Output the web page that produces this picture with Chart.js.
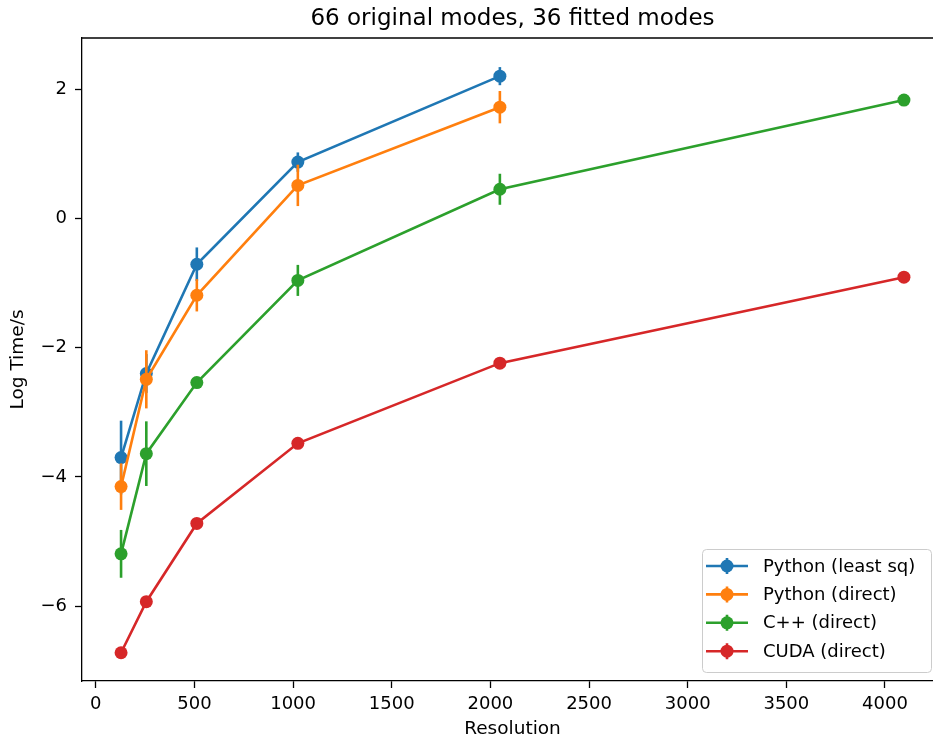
<!DOCTYPE html>
<html>
<head>
<meta charset="utf-8">
<title>Log Time vs Resolution</title>
<script src="https://cdn.jsdelivr.net/npm/chart.js@4.4.1/dist/chart.umd.min.js"></script>
<style>
  html, body { margin: 0; padding: 0; background: #fff; overflow: hidden; }
  #viewport { width: 933px; height: 740px; overflow: hidden; position: relative; }
  #wrap { width: 950px; height: 740px; position: absolute; left: 0; top: 0; }
</style>
</head>
<body>
<div id="viewport"><div id="wrap"><canvas id="chartTempos"></canvas></div></div>
<script>
// Tempo (log s) por resolucao, com barras de erro, para cada implementacao
const resolutions = [128, 256, 512, 1024, 2048, 4096];

const pythonLsqTime = [-3.70, -2.40, -0.71, 0.87, 2.20];
const pythonLsqErr  = [0.57, 0.30, 0.26, 0.15, 0.14];

const pythonDirectTime = [-4.15, -2.49, -1.19, 0.51, 1.72];
const pythonDirectErr  = [0.36, 0.45, 0.25, 0.32, 0.25];

const cppDirectTime = [-5.19, -3.64, -2.54, -0.96, 0.45, 1.83];
const cppDirectErr  = [0.37, 0.50, 0.06, 0.24, 0.24, 0.07];

const cudaDirectTime = [-6.72, -5.93, -4.72, -3.48, -2.24, -0.91];
const cudaDirectErr  = [0.03, 0.03, 0.03, 0.03, 0.03, 0.03];

const seriesLabels = ['Python (least sq)', 'Python (direct)', 'C++ (direct)', 'CUDA (direct)'];
const seriesColors = ['#1f77b4', '#ff7f0e', '#2ca02c', '#d62728'];

const xTicks = [0, 500, 1000, 1500, 2000, 2500, 3000, 3500, 4000];
const yTicks = [-6, -4, -2, 0, 2];

const chartTitle = '66 original modes, 36 fitted modes';
const FONT = 'DejaVu Sans';

function toPoints(times) {
  return times.map((t, i) => ({ x: resolutions[i], y: t }));
}

const allTimes = [pythonLsqTime, pythonDirectTime, cppDirectTime, cudaDirectTime];
const allErrs = [pythonLsqErr, pythonDirectErr, cppDirectErr, cudaDirectErr];

const datasets = allTimes.map((times, i) => ({
  label: seriesLabels[i],
  data: toPoints(times),
  errors: allErrs[i],
  borderColor: seriesColors[i],
  backgroundColor: seriesColors[i],
  pointBackgroundColor: seriesColors[i],
  pointBorderWidth: 0,
  pointRadius: 6.5,
  borderWidth: 2.6,
  tension: 0,
  order: allTimes.length - i   // ultima serie fica por cima
}));

// barras de erro verticais, desenhadas logo apos cada serie
const errorBarsPlugin = {
  id: 'errorBars',
  afterDatasetDraw(chart, args) {
    const ds = chart.data.datasets[args.index];
    if (!ds.errors) return;
    const { ctx, chartArea, scales } = chart;
    ctx.save();
    ctx.beginPath();
    ctx.rect(chartArea.left, chartArea.top, chartArea.right - chartArea.left, chartArea.bottom - chartArea.top);
    ctx.clip();
    ctx.strokeStyle = ds.borderColor;
    ctx.lineWidth = ds.borderWidth;
    ds.data.forEach((pt, j) => {
      const e = ds.errors[j];
      const px = scales.x.getPixelForValue(pt.x);
      ctx.beginPath();
      ctx.moveTo(px, scales.y.getPixelForValue(pt.y - e));
      ctx.lineTo(px, scales.y.getPixelForValue(pt.y + e));
      ctx.stroke();
    });
    ctx.restore();
  }
};

// moldura superior, titulo e legenda
const framePlugin = {
  id: 'frame',
  afterDraw(chart) {
    const { ctx, chartArea } = chart;
    ctx.save();

    ctx.strokeStyle = '#000';
    ctx.lineWidth = 1.3;
    ctx.beginPath();
    ctx.moveTo(chartArea.left, chartArea.top);
    ctx.lineTo(chartArea.right, chartArea.top);
    ctx.stroke();

    ctx.fillStyle = '#000';
    ctx.font = '23px "' + FONT + '"';
    ctx.textAlign = 'center';
    ctx.textBaseline = 'middle';
    ctx.fillText(chartTitle, (chartArea.left + chartArea.right) / 2, 19.5);

    const lw = 229, lh = 123;
    const lx = 702;
    const ly = chartArea.bottom - 9 - lh;
    ctx.beginPath();
    ctx.roundRect(lx + 0.5, ly + 0.5, lw, lh, 4);
    ctx.fillStyle = 'rgba(255,255,255,0.8)';
    ctx.fill();
    ctx.strokeStyle = '#cccccc';
    ctx.lineWidth = 1;
    ctx.stroke();

    ctx.font = '18px "' + FONT + '"';
    ctx.textAlign = 'left';
    chart.data.datasets.forEach((ds, i) => {
      const y = ly + 17 + i * 28.4;
      const mx = lx + 25;
      ctx.strokeStyle = ds.borderColor;
      ctx.lineWidth = 2.6;
      ctx.beginPath();
      ctx.moveTo(lx + 4, y);
      ctx.lineTo(lx + 46, y);
      ctx.moveTo(mx, y - 8);
      ctx.lineTo(mx, y + 8);
      ctx.stroke();
      ctx.fillStyle = ds.borderColor;
      ctx.beginPath();
      ctx.arc(mx, y, 6.5, 0, Math.PI * 2);
      ctx.fill();
      ctx.fillStyle = '#000';
      ctx.fillText(ds.label, lx + 61, y + 1);
    });

    ctx.restore();
  }
};

function minusLabel(v) {
  return v < 0 ? '\u2212' + Math.abs(v) : String(v);
}

const axisGrid = {
  drawOnChartArea: false,
  drawTicks: true,
  tickLength: 7,
  tickColor: '#000',
  tickWidth: 1.3
};

const chartEl = document.getElementById('chartTempos');
new Chart(chartEl, {
  type: 'line',
  data: { datasets: datasets },
  plugins: [errorBarsPlugin, framePlugin],
  options: {
    responsive: true,
    maintainAspectRatio: false,
    devicePixelRatio: 1,
    animation: false,
    // o canvas e mais largo que a janela: a borda direita fica fora de vista
    layout: { padding: { top: 38, right: 7, left: 0, bottom: 0 } },
    plugins: {
      legend: { display: false },
      tooltip: { enabled: false },
      title: { display: false }
    },
    scales: {
      x: {
        type: 'linear',
        min: -70,
        max: 4294,
        afterBuildTicks: s => { s.ticks = xTicks.map(v => ({ value: v })); },
        afterFit: s => { s.height = 59; },
        ticks: {
          autoSkip: false,
          maxRotation: 0,
          padding: 6,
          color: '#000',
          font: { family: FONT, size: 18 },
          callback: v => minusLabel(v)
        },
        grid: axisGrid,
        border: { display: true, color: '#000', width: 1.3 },
        title: {
          display: true,
          text: 'Resolution',
          color: '#000',
          font: { family: FONT, size: 18.5 },
          padding: { top: 0, bottom: 0 }
        }
      },
      y: {
        type: 'linear',
        min: -7.157,
        max: 2.79,
        afterBuildTicks: s => { s.ticks = yTicks.map(v => ({ value: v })); },
        afterFit: s => { s.width = 82; },
        ticks: {
          autoSkip: false,
          padding: 8,
          color: '#000',
          font: { family: FONT, size: 18 },
          callback: v => minusLabel(v)
        },
        grid: axisGrid,
        border: { display: true, color: '#000', width: 1.3 },
        title: {
          display: true,
          text: 'Log Time/s',
          color: '#000',
          font: { family: FONT, size: 18.5 },
          padding: { top: 7, bottom: 0 }
        }
      }
    }
  }
});
</script>
</body>
</html>
